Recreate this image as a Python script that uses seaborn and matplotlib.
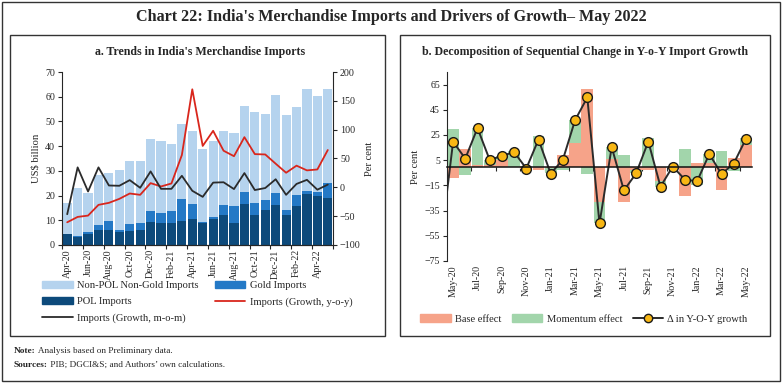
"""Chart 22: India's merchandise imports and drivers of growth (May 2022)."""
import numpy as np
import pandas as pd
import matplotlib
matplotlib.use("Agg")
import matplotlib.pyplot as plt
from matplotlib.patches import Rectangle, Patch
from matplotlib.lines import Line2D
import seaborn as sns

# ---- panel a data (US$ billion / per cent) ----
months_a = ["Apr-20", "May-20", "Jun-20", "Jul-20", "Aug-20", "Sep-20", "Oct-20",
            "Nov-20", "Dec-20", "Jan-21", "Feb-21", "Mar-21", "Apr-21", "May-21",
            "Jun-21", "Jul-21", "Aug-21", "Sep-21", "Oct-21", "Nov-21", "Dec-21",
            "Jan-22", "Feb-22", "Mar-22", "Apr-22", "May-22"]
total_imports = [16.9, 22.9, 21.1, 28.5, 29.2, 30.2, 34.1, 33.8, 43.0, 42.2, 40.7, 49.0, 46.0,
                 38.8, 42.2, 46.3, 45.2, 56.4, 53.7, 53.0, 60.5, 52.6, 55.8, 63.2, 60.2, 63.3]
pol_imports = [4.3, 3.4, 4.6, 6.2, 6.0, 5.4, 5.7, 6.1, 9.3, 9.1, 8.7, 9.7, 10.6,
               9.1, 10.4, 12.2, 9.1, 16.5, 12.0, 14.1, 16.2, 12.2, 15.6, 20.8, 19.9, 18.9]
gold_imports = [0.3, 0.1, 0.7, 1.9, 3.7, 0.7, 2.6, 2.8, 4.5, 4.0, 5.2, 8.8, 6.0,
                0.4, 1.0, 4.0, 6.7, 5.0, 5.1, 4.0, 4.8, 2.1, 4.7, 1.1, 1.6, 6.0]
growth_yoy = [-60.6, -51.3, -49.0, -30.4, -26.9, -20.0, -10.7, -13.0, 7.3, 1.5, 6.7, 56.0, 170.0,
              71.8, 98.0, 63.5, 54.0, 87.0, 57.6, 57.0, 41.0, 25.3, 37.6, 29.4, 31.0, 64.7]
growth_mom = [-46.6, 34.6, -7.2, 34.6, 3.2, 2.7, 12.5, -0.8, 27.6, -2.6, -2.6, 20.0, -6.0,
              -16.5, 8.2, 8.8, -3.0, 24.7, -4.7, -1.2, 14.0, -13.0, 5.9, 13.0, -4.1, 4.7]

# ---- panel b data (per cent) ----
months_b = months_a[1:]
base_effect = [-9.4, 13.6, 1.0, 1.5, 5.0, -0.5, -2.3, -2.6, -1.5, 8.9, 18.8, 61.4,
               -28.2, 6.3, -28.5, -2.5, -2.6, -11.2, -0.5, -23.8, 2.6, 2.6, -18.5, 6.5, 17.0]
momentum_effect = [29.8, -6.5, 29.5, 3.5, 3.0, 12.0, 0.7, 24.5, -4.0, -2.6, 18.2, -6.0,
                   -16.5, 9.2, 9.4, -3.0, 23.0, -5.0, 0.5, 13.6, -14.4, 7.3, 12.3, -3.4, 5.5]
delta_yoy = [19.6, 6.3, 30.5, 5.2, 8.4, 11.5, -1.6, 21.4, -5.7, 5.5, 36.8, 54.8,
             -45.2, 15.4, -19.0, -5.5, 19.8, -16.0, 0.0, -10.4, -11.7, 9.9, -6.0, 2.3, 21.9]
delta_yoy_apr20 = -60.0  # previous point, only its line segment enters the plot

C_NONPOL, C_GOLD, C_POL = "#b5d3ee", "#2479c6", "#0d4a7b"
C_RED, C_BLACK = "#d9261c", "#2b2b2b"
C_BASE, C_MOM, C_DOT = "#f6a389", "#a2d5ab", "#f8b714"

sns.set_style("ticks")
plt.rcParams["font.family"] = ["Liberation Serif", "DejaVu Serif"]
plt.rcParams["axes.linewidth"] = 0.8
plt.rcParams["xtick.labelsize"] = 7.2
plt.rcParams["ytick.labelsize"] = 7.2
plt.rcParams["xtick.major.width"] = 0.8
plt.rcParams["ytick.major.width"] = 0.8
plt.rcParams["xtick.minor.width"] = 0.8

W, H = 783, 385
fig = plt.figure(figsize=(W / 100, H / 100), dpi=100)


def box(x0, y0, x1, y1):
    """Axes rect in figure fraction from pixel coords (top-left origin)."""
    return [x0 / W, 1 - y1 / H, (x1 - x0) / W, (y1 - y0) / H]


# background frame, titles and notes
bg = fig.add_axes([0, 0, 1, 1])
bg.set_axis_off()
bg.set_xlim(0, W)
bg.set_ylim(H, 0)
bg.add_patch(Rectangle((2, 2), 778, 379, fill=False, lw=1, ec="#333333"))
bg.add_patch(Rectangle((10, 35), 375, 301, fill=False, lw=1, ec="#333333"))
bg.add_patch(Rectangle((400, 35), 370, 301, fill=False, lw=1, ec="#333333"))
bg.text(391, 17, "Chart 22: India's Merchandise Imports and Drivers of Growth\u2013 May 2022",
        ha="center", va="center", fontsize=11.6, fontweight="bold")
bg.text(200, 52, "a. Trends in India's Merchandise Imports",
        ha="center", va="center", fontsize=8.6, fontweight="bold")
bg.text(585, 52, "b. Decomposition of Sequential Change in Y-o-Y Import Growth",
        ha="center", va="center", fontsize=8.6, fontweight="bold")
t1 = bg.text(14, 351, "Note:", ha="left", va="center", fontsize=6.7, fontweight="bold")
bg.annotate(" Analysis based on Preliminary data.", xy=(1, 0.5), xycoords=t1,
            ha="left", va="center", fontsize=6.7)
t2 = bg.text(14, 365, "Sources:", ha="left", va="center", fontsize=6.7, fontweight="bold")
bg.annotate(" PIB; DGCI&S; and Authors\u2019 own calculations.", xy=(1, 0.5), xycoords=t2,
            ha="left", va="center", fontsize=6.7)

# ---- panel a ----
df_a = pd.DataFrame({"month": months_a, "total": total_imports,
                     "gold_top": np.add(pol_imports, gold_imports), "pol": pol_imports,
                     "yoy": growth_yoy, "mom": growth_mom})
ax = fig.add_axes(box(62, 72, 333, 245))
for col, c in [("total", C_NONPOL), ("gold_top", C_GOLD), ("pol", C_POL)]:
    sns.barplot(data=df_a, x="month", y=col, color=c, saturation=1, width=0.88,
                errorbar=None, linewidth=0, ax=ax)
ax.set_xlim(-0.5, len(months_a) - 0.5)
ax.set_ylim(0, 70)
ax.set_yticks(range(0, 71, 10))
ax.set_xticks(range(0, len(months_a), 2))
ax.set_xticklabels(months_a[::2], rotation=90)
ax.set_xticks(np.arange(-0.5, len(months_a), 2), minor=True)
ax.tick_params(axis="x", which="major", length=0, pad=3)
ax.tick_params(axis="x", which="minor", length=3, direction="out")
ax.tick_params(axis="y", length=3, pad=2)
ax.set_xlabel("")
ax.set_ylabel("US$ billion", fontsize=7.6, labelpad=3)
ax.spines["top"].set_visible(False)
ax.spines["right"].set_visible(False)

ax2 = ax.twinx()
sns.lineplot(x=df_a.index, y=df_a["yoy"], color=C_RED, lw=1.3, ax=ax2)
sns.lineplot(x=df_a.index, y=df_a["mom"], color=C_BLACK, lw=1.3, ax=ax2)
ax2.set_ylim(-100, 200)
ax2.set_yticks(range(-100, 201, 50))
ax2.set_ylabel("Per cent", fontsize=7.6, labelpad=3)
ax2.tick_params(axis="y", length=3, pad=2)
ax2.set_xlim(-0.5, len(months_a) - 0.5)
for s in ["top", "left"]:
    ax2.spines[s].set_visible(False)

h_nonpol = Patch(color=C_NONPOL, label="Non-POL Non-Gold Imports")
h_gold = Patch(color=C_GOLD, label="Gold Imports")
h_pol = Patch(color=C_POL, label="POL Imports")
h_yoy = Line2D([], [], color=C_RED, lw=1.3, label="Imports (Growth, y-o-y)")
h_mom = Line2D([], [], color=C_BLACK, lw=1.3, label="Imports (Growth, m-o-m)")
fig.legend(handles=[h_nonpol, h_pol, h_mom, h_gold, h_yoy], ncol=2, loc="upper left",
           bbox_to_anchor=(42 / W, 1 - 281 / H), frameon=False, fontsize=7.6,
           handlelength=2.9, handleheight=0.7, handletextpad=0.45, labelspacing=0.62,
           columnspacing=1.5, borderpad=0, borderaxespad=0)

# ---- panel b ----
df_b = pd.DataFrame({"month": months_b, "base": base_effect, "momentum": momentum_effect})
same_sign = np.sign(df_b["base"]) == np.sign(df_b["momentum"])
df_b["mom_stack"] = np.where(same_sign, df_b["base"] + df_b["momentum"], df_b["momentum"])

axb = fig.add_axes(box(447, 72, 752, 261))
sns.barplot(data=df_b, x="month", y="mom_stack", color=C_MOM, saturation=1, width=0.96,
            errorbar=None, linewidth=0, ax=axb)
sns.barplot(data=df_b, x="month", y="base", color=C_BASE, saturation=1, width=0.96,
            errorbar=None, linewidth=0, ax=axb)
line_x = np.arange(-1, len(months_b))
line_y = [delta_yoy_apr20] + delta_yoy
sns.lineplot(x=line_x, y=line_y, color=C_BLACK, lw=1.4, marker="o", markersize=7,
             markerfacecolor=C_DOT, markeredgecolor="#1a1a1a", markeredgewidth=1,
             ax=axb)
ylo, yhi = -75, 75
axb.set_ylim(ylo, yhi)
axb.set_xlim(-0.5, len(months_b) - 0.5)
axb.set_yticks(range(-75, 66, 20))
axb.spines["bottom"].set_position(("data", 0))
axb.spines["bottom"].set_linewidth(1.1)
axb.spines["bottom"].set_color("#111111")
axb.spines["top"].set_visible(False)
axb.spines["right"].set_visible(False)
axb.set_xticks(range(0, len(months_b), 2))
axb.set_xticklabels(months_b[::2], rotation=90)
axb.set_xticks(np.arange(1.5, len(months_b), 2), minor=True)
ax_h_pt = (261 - 72) / 100 * 72
axb.tick_params(axis="x", which="major", length=0, pad=ax_h_pt * (0 - ylo) / (yhi - ylo) + 3)
axb.tick_params(axis="x", which="minor", length=3, direction="out")
axb.tick_params(axis="y", length=3, pad=2)
axb.set_xlabel("")
axb.set_ylabel("Per cent", fontsize=7.6, labelpad=3)

h_base = Patch(color=C_BASE, label="Base effect")
h_momb = Patch(color=C_MOM, label="Momentum effect")
h_delta = Line2D([], [], color=C_BLACK, lw=1.4, marker="o", markersize=6,
                 markerfacecolor=C_DOT, markeredgecolor="#1a1a1a", label="\u0394 in Y-O-Y growth")
fig.legend(handles=[h_base, h_momb, h_delta], ncol=3, loc="center left",
           bbox_to_anchor=(420 / W, 1 - 319 / H), frameon=False, fontsize=7.6,
           handlelength=2.9, handleheight=0.7, handletextpad=0.4, columnspacing=1.0,
           borderpad=0, borderaxespad=0)

fig.savefig("out.png", dpi=100)
